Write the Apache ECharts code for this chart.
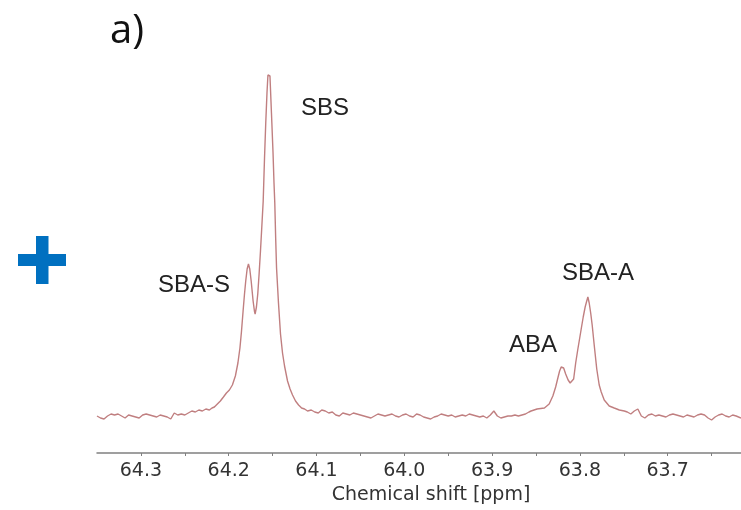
<!DOCTYPE html>
<html>
<head>
<meta charset="utf-8">
<script src="https://cdn.jsdelivr.net/npm/echarts@6/dist/echarts.min.js"></script>
<style>
html,body{margin:0;padding:0;background:#fff;}
#chart{width:741px;height:510px;}
</style>
</head>
<body>
<div id="chart"></div>
<script>
// Chemical shift (ppm) of each sampled point
const shiftPpm = [
  64.350,64.346,64.342,64.338,64.334,64.330,64.326,64.322,64.318,64.314,
  64.310,64.306,64.302,64.298,64.294,64.290,64.286,64.282,64.278,64.274,
  64.270,64.266,64.262,64.258,64.254,64.250,64.246,64.242,64.238,64.234,
  64.230,64.226,64.222,64.219,
  64.2163,64.2129,64.2095,64.2060,64.2026,64.1992,64.1958,64.1924,64.1895,64.1872,
  64.1855,64.1836,64.1821,64.1806,64.1790,64.1775,64.1760,64.1744,64.1722,64.1707,
  64.1699,64.1684,64.1669,64.1653,64.1638,64.1623,64.1607,64.1592,64.1578,64.1564,
  64.1553,64.1541,64.1530,64.1513,64.1495,64.1484,64.1475,64.1465,64.1455,64.1433,
  64.1410,64.1387,64.1364,64.1330,64.1301,64.1273,64.1239,64.1204,64.1170,64.1136,
  64.1102,
  64.106,64.102,64.098,64.094,64.090,64.086,64.082,64.078,64.074,64.070,
  64.066,64.062,64.058,64.054,64.050,64.046,64.042,64.038,64.034,64.030,
  64.026,64.022,64.018,64.014,64.010,64.006,64.002,63.998,63.994,63.990,
  63.986,63.982,63.978,63.974,63.970,63.966,63.962,63.958,63.954,63.950,
  63.946,63.942,63.938,63.934,63.930,63.926,63.922,63.918,63.914,63.910,
  63.906,63.902,63.898,63.894,63.890,63.886,63.882,63.878,63.874,63.870,
  63.866,63.862,63.858,
  63.8556,63.8488,63.8404,63.8350,63.8308,63.8276,63.8251,63.8231,63.8213,63.8202,
  63.8185,63.8162,63.8134,63.8111,63.8091,63.8071,63.8048,63.8023,63.8002,63.7985,
  63.7962,63.7940,63.7922,63.7909,63.7894,63.7877,63.7860,63.7837,63.7808,63.7780,
  63.7757,63.7723,63.7666,63.7609,63.7551,63.7494,
  63.746,63.742,63.738,63.734,63.730,63.726,63.722,63.718,63.714,63.710,
  63.706,63.702,63.698,63.694,63.690,63.686,63.682,63.678,63.674,63.670,
  63.666,63.662,63.658,63.654,63.650,63.646,63.642,63.638,63.634,63.630,
  63.626,63.622,63.6165
];
// Signal intensity (arbitrary units) at each shift
const intensity = [
  37,35,34,37,39,38,39,37,35,38,
  37,36,35,38,39,38,37,36,38,37,
  36,34,40,38,39,38,40,42,41,43,
  42,44,43,45,
  46,49,52,56,60,63,68,77,90,105,
  121,142,158,172,184,189,184,172,152,142,
  139,146,159,180,202,226,252,295,330,360,
  378,380,377,340,300,270,250,215,185,150,
  119,100,87,72,64,58,52,48,45,44,
  42,
  43,41,40,43,42,40,41,38,37,40,
  39,38,40,39,38,37,36,35,37,39,
  38,37,38,39,37,36,38,39,37,36,
  39,38,36,35,34,36,37,39,38,37,
  38,36,37,38,37,39,38,37,36,37,
  35,38,42,37,35,36,37,37,38,37,
  38,39,41,
  42,44,45,49,57,66,75,82,86,87,
  85,79,73,70,69,74,90,104,115,124,
  136,146,152,156,150,140,128,108,84,68,
  61,53,47,45,43,42,
  41,39,42,44,37,35,38,39,37,38,
  37,36,38,39,38,37,36,38,37,36,
  38,39,38,35,33,36,38,39,37,36,
  38,37,35
];
// Axis tick values
const majorTicks = [63.7, 63.8, 63.9, 64.0, 64.1, 64.2, 64.3];
const minorTicks = [63.65, 63.7, 63.75, 63.8, 63.85, 63.9, 63.95, 64.0, 64.05, 64.1, 64.15, 64.2, 64.25, 64.3];
// Peak annotations
const peakNames = ['SBS', 'SBA-S', 'ABA', 'SBA-A'];

const chart = echarts.init(document.getElementById('chart'), null, {renderer: 'canvas'});
const points = shiftPpm.map((x, i) => [x, intensity[i]]);

chart.setOption({
  backgroundColor: '#ffffff',
  animation: false,
  grid: {left: 97, right: 0, top: 53, bottom: 57},
  xAxis: {
    type: 'value',
    inverse: true,
    min: 63.6165,
    max: 64.35,
    name: 'Chemical shift [ppm]',
    nameLocation: 'middle',
    nameGap: 31,
    nameTextStyle: {fontFamily: 'DejaVu Sans', fontSize: 19, color: '#333333', padding: [0, 0, 0, 24]},
    axisLine: {show: true, lineStyle: {color: '#808080', width: 1.5}},
    axisTick: {show: true, customValues: minorTicks, length: 3, lineStyle: {color: '#808080', width: 1}},
    axisLabel: {
      customValues: majorTicks,
      fontFamily: 'DejaVu Sans', fontSize: 19, color: '#333333', margin: 9,
      formatter: v => v.toFixed(1)
    },
    splitLine: {show: false}
  },
  yAxis: {
    type: 'value', min: 0, max: 400, show: false,
    splitLine: {show: false}
  },
  series: [{
    type: 'line',
    data: points,
    showSymbol: false,
    smooth: false,
    lineStyle: {color: '#c07f80', width: 1.4},
    clip: true
  }],
  graphic: [
    {type: 'text', left: 110, top: 12, style: {text: 'a)', fontFamily: 'Open Sans', fontSize: 40, fill: '#111111'}},
    {type: 'rect', shape: {x: 36, y: 236, width: 12.5, height: 48}, style: {fill: '#0070C0'}},
    {type: 'rect', shape: {x: 18, y: 254, width: 48, height: 12}, style: {fill: '#0070C0'}},
    {type: 'text', x: 301, y: 108, style: {text: peakNames[0], fontFamily: 'Liberation Sans', fontSize: 24, fill: '#222222', textAlign: 'left', textVerticalAlign: 'middle'}},
    {type: 'text', x: 230, y: 285, style: {text: peakNames[1], fontFamily: 'Liberation Sans', fontSize: 24, fill: '#222222', textAlign: 'right', textVerticalAlign: 'middle'}},
    {type: 'text', x: 557, y: 345, style: {text: peakNames[2], fontFamily: 'Liberation Sans', fontSize: 24, fill: '#222222', textAlign: 'right', textVerticalAlign: 'middle'}},
    {type: 'text', x: 598, y: 273, style: {text: peakNames[3], fontFamily: 'Liberation Sans', fontSize: 24, fill: '#222222', textAlign: 'center', textVerticalAlign: 'middle'}}
  ]
});
</script>
</body>
</html>
